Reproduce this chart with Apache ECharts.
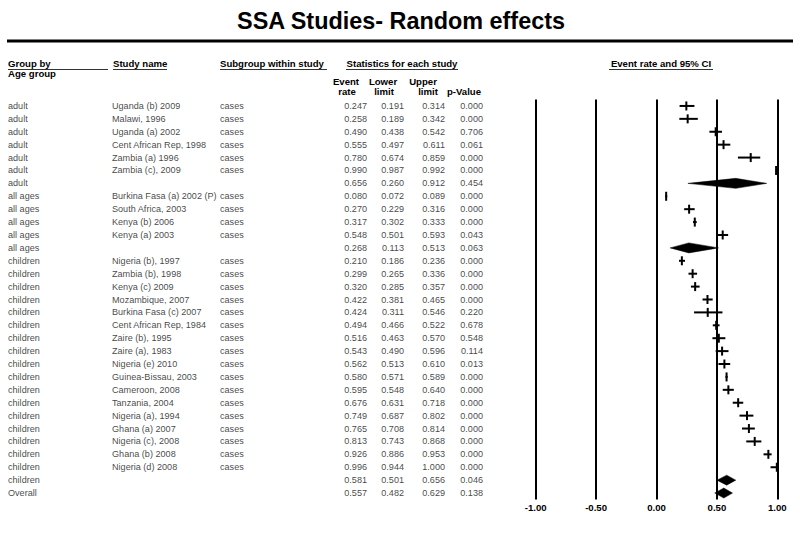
<!DOCTYPE html>
<html>
<head>
<meta charset="utf-8">
<script src="https://cdn.jsdelivr.net/npm/echarts@6/dist/echarts.min.js"></script>
<style>html,body{margin:0;padding:0;background:#fff;}#c{width:800px;height:537px;}</style>
</head>
<body>
<div id="c"></div>
<script>
const groups = ['adult','adult','adult','adult','adult','adult','adult',
  'all ages','all ages','all ages','all ages','all ages',
  'children','children','children','children','children','children','children','children','children',
  'children','children','children','children','children','children','children','children','children',
  'Overall'];
const studies = ['Uganda (b) 2009','Malawi, 1996','Uganda (a) 2002','Cent African Rep, 1998','Zambia (a) 1996','Zambia (c), 2009','',
  'Burkina Fasa (a) 2002 (P)','South Africa, 2003','Kenya (b) 2006','Kenya (a) 2003','',
  'Nigeria (b), 1997','Zambia (b), 1998','Kenya (c) 2009','Mozambique, 2007','Burkina Fasa (c) 2007','Cent African Rep, 1984',
  'Zaire (b), 1995','Zaire (a), 1983','Nigeria (e) 2010','Guinea-Bissau, 2003','Cameroon, 2008','Tanzania, 2004',
  'Nigeria (a), 1994','Ghana (a) 2007','Nigeria (c), 2008','Ghana (b) 2008','Nigeria (d) 2008','',
  ''];
const subgroups = ['cases','cases','cases','cases','cases','cases','',
  'cases','cases','cases','cases','',
  'cases','cases','cases','cases','cases','cases','cases','cases','cases','cases','cases','cases','cases','cases','cases','cases','cases','',
  ''];
const eventRate = [0.247,0.258,0.490,0.555,0.780,0.990,0.656,
  0.080,0.270,0.317,0.548,0.268,
  0.210,0.299,0.320,0.422,0.424,0.494,0.516,0.543,0.562,0.580,0.595,0.676,0.749,0.765,0.813,0.926,0.996,0.581,
  0.557];
const lowerLimit = [0.191,0.189,0.438,0.497,0.674,0.987,0.260,
  0.072,0.229,0.302,0.501,0.113,
  0.186,0.265,0.285,0.381,0.311,0.466,0.463,0.490,0.513,0.571,0.548,0.631,0.687,0.708,0.743,0.886,0.944,0.501,
  0.482];
const upperLimit = [0.314,0.342,0.542,0.611,0.859,0.992,0.912,
  0.089,0.316,0.333,0.593,0.513,
  0.236,0.336,0.357,0.465,0.546,0.522,0.570,0.596,0.610,0.589,0.640,0.718,0.802,0.814,0.868,0.953,1.000,0.656,
  0.629];
const pValue = [0.000,0.000,0.706,0.061,0.000,0.000,0.454,
  0.000,0.000,0.000,0.043,0.063,
  0.000,0.000,0.000,0.000,0.220,0.678,0.548,0.114,0.013,0.000,0.000,0.000,0.000,0.000,0.000,0.000,0.000,0.046,
  0.138];
const xTicks = [-1, -0.5, 0, 0.5, 1];

const FONT = "'Liberation Sans', Arial, sans-serif";
const rows = groups.map((g, i) => String(i));
const isSummary = studies.map(s => s === '' ? 1 : 0);

// layout (pixel positions of the table columns)
const COL = {group: 8, study: 112, subgroup: 220, rate: 367, lower: 404, upper: 445, p: 483};
const GRID_TOP = 99.5, GRID_H = 400;

function textSeries(x, arr, align) {
  return {
    type: 'scatter', xAxisIndex: 1, yAxisIndex: 1, symbolSize: 0, silent: true,
    data: arr.map((t, i) => [x, i, t]),
    label: {
      show: true, position: align === 'left' ? 'right' : 'left', distance: 0,
      formatter: p => p.value[2], color: '#111', fontFamily: FONT, fontSize: 9.1
    }
  };
}
const fmt = v => v.toFixed(3);

const chart = echarts.init(document.getElementById('c'), null, {renderer: 'svg'});
const hdr = {fontFamily: FONT, fontWeight: 'bold', fontSize: 9.6, fill: '#000'};
function T(text, x, y, align) {
  return {type: 'text', x: x, y: y, silent: true,
    style: Object.assign({text: text, textAlign: align || 'left', textVerticalAlign: 'middle'}, hdr)};
}
function L(x1, y1, x2, y2, w, c) {
  return {type: 'line', silent: true, shape: {x1, y1, x2, y2}, style: {stroke: c || '#333', lineWidth: w || 1}};
}

chart.setOption({
  animation: false,
  backgroundColor: '#fff',
  grid: [
    {left: 535.7, width: 241.6, top: GRID_TOP, height: GRID_H},
    {left: 0, width: 500, top: GRID_TOP, height: GRID_H}
  ],
  xAxis: [
    {type: 'value', gridIndex: 0, min: -1, max: 1, interval: 0.5,
      axisLine: {show: false}, axisTick: {show: false},
      splitLine: {show: true, showMinLine: true, showMaxLine: true, lineStyle: {color: '#000', width: 2}},
      axisLabel: {margin: 3, color: '#000', fontFamily: FONT, fontWeight: 'bold', fontSize: 9.6,
        formatter: v => xTicks.includes(v) ? v.toFixed(2) : ''}},
    {type: 'value', gridIndex: 1, min: 0, max: 500, show: false}
  ],
  yAxis: [
    {type: 'category', gridIndex: 0, data: rows, inverse: true, show: false},
    {type: 'category', gridIndex: 1, data: rows, inverse: true, show: false}
  ],
  series: [
    {
      type: 'custom', xAxisIndex: 0, yAxisIndex: 0, silent: true, clip: false,
      data: rows.map((r, i) => [i, eventRate[i], lowerLimit[i], upperLimit[i], isSummary[i]]),
      encode: {x: [1, 2, 3], y: 0},
      renderItem: function (params, api) {
        const row = api.value(0);
        const c = api.coord([api.value(1), row]);
        const lo = api.coord([api.value(2), row]);
        const hi = api.coord([api.value(3), row]);
        if (api.value(4)) {
          return {type: 'polygon', shape: {points: [[lo[0], c[1]], [c[0], c[1] - 5], [hi[0], c[1]], [c[0], c[1] + 5]]},
            style: {fill: '#000', stroke: '#000', lineWidth: 0.5}};
        }
        return {type: 'group', children: [
          {type: 'line', shape: {x1: lo[0], y1: c[1], x2: hi[0], y2: c[1]}, style: {stroke: '#000', lineWidth: 2}},
          {type: 'line', shape: {x1: c[0], y1: c[1] - 4.5, x2: c[0], y2: c[1] + 4.5}, style: {stroke: '#000', lineWidth: 2}}
        ]};
      }
    },
    textSeries(COL.group, groups, 'left'),
    textSeries(COL.study, studies, 'left'),
    textSeries(COL.subgroup, subgroups, 'left'),
    textSeries(COL.rate, eventRate.map(fmt), 'right'),
    textSeries(COL.lower, lowerLimit.map(fmt), 'right'),
    textSeries(COL.upper, upperLimit.map(fmt), 'right'),
    textSeries(COL.p, pValue.map(fmt), 'right')
  ],
  graphic: [
    {type: 'text', x: 401, y: 20.5, scaleX: 0.975, silent: true,
      style: {text: 'SSA Studies- Random effects', textAlign: 'center', textVerticalAlign: 'middle',
        fontFamily: FONT, fontWeight: 'bold', fontSize: 24, fill: '#000'}},
    L(7, 41, 793, 41, 3, '#000'),
    T('Group by', 8, 63), L(8, 69.5, 108, 69.5),
    T('Study name', 113, 63), L(113, 69.5, 167, 69.5),
    T('Subgroup within study', 220, 63), L(220, 69.5, 327, 69.5),
    T('Statistics for each study', 402, 63, 'center'), L(346, 69.5, 458, 69.5),
    T('Event rate and 95% CI', 661, 63, 'center'), L(609, 69.5, 713, 69.5),
    T('Age group', 8, 73.5),
    T('Event', 346, 81, 'center'), T('rate', 347, 91, 'center'),
    T('Lower', 383, 81, 'center'), T('limit', 384, 91, 'center'),
    T('Upper', 423, 81, 'center'), T('limit', 428, 91, 'center'),
    T('p-Value', 464, 91, 'center')
  ]
});
</script>
</body>
</html>
